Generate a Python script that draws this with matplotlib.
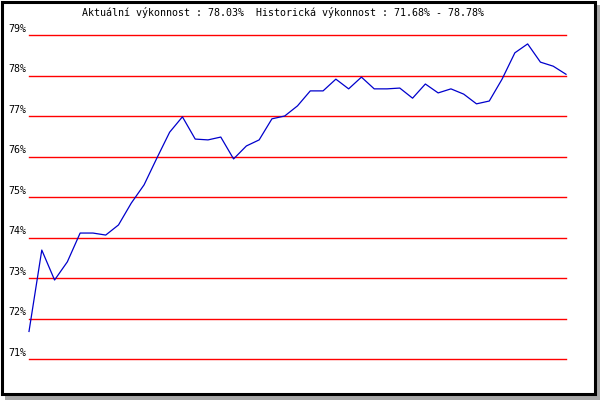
import matplotlib.pyplot as plt
from matplotlib.patches import Rectangle

# hodnoty vykonnosti (%)
vykon = [71.68, 73.69, 72.95, 73.40, 74.11, 74.11, 74.06, 74.31, 74.85, 75.30,
         75.96, 76.60, 76.98, 76.43, 76.41, 76.48, 75.94, 76.26, 76.41, 76.93,
         77.00, 77.25, 77.62, 77.62, 77.91, 77.67, 77.96, 77.67, 77.67, 77.69,
         77.44, 77.79, 77.57, 77.67, 77.54, 77.30, 77.37, 77.91, 78.56, 78.78,
         78.33, 78.23, 78.03]
urovne = [71, 72, 73, 74, 75, 76, 77, 78, 79]
popisky = ["71%", "72%", "73%", "74%", "75%", "76%", "77%", "78%", "79%"]
titulek = "Aktuální výkonnost : 78.03%  Historická výkonnost : 71.68% - 78.78%"

W, H = 600, 400
fig = plt.figure(figsize=(6, 4), dpi=100)
fig.patch.set_facecolor("white")

# oblast grafu: x 29..566 px, y 35..359 px
ax = fig.add_axes([29 / W, 1 - 359 / H, (566 - 29) / W, (359 - 35) / H])
ax.set_xlim(0, len(vykon) - 1)
ax.set_ylim(71, 79)
ax.axis("off")

for u, p in zip(urovne, popisky):
    ax.axhline(u, color="#ff0000", lw=1.0, clip_on=False)
    ax.text(-0.22, u + 0.03, p, ha="right", va="bottom",
            family="DejaVu Sans Mono", fontsize=7.2, color="black")

ax.plot(range(len(vykon)), vykon, color="#0000cc", lw=0.9, clip_on=False)

fig.text(82 / W, 1 - 13 / H, titulek, ha="left", va="center",
         family="DejaVu Sans Mono", fontsize=7.2, color="black")

# ram se stinem
fig.patches.append(Rectangle((5 / W, 0), (W - 5) / W, 5 / H,
                             transform=fig.transFigure, color="#a8a8a8", lw=0))
fig.patches.append(Rectangle((596 / W, 0), 4 / W, (H - 5) / H,
                             transform=fig.transFigure, color="#a8a8a8", lw=0))
fig.patches.append(Rectangle((1.5 / W, 6.5 / H), 593 / W, 392 / H,
                             transform=fig.transFigure, fill=False,
                             edgecolor="black", lw=2.2))

fig.savefig("out.png", dpi=100)
